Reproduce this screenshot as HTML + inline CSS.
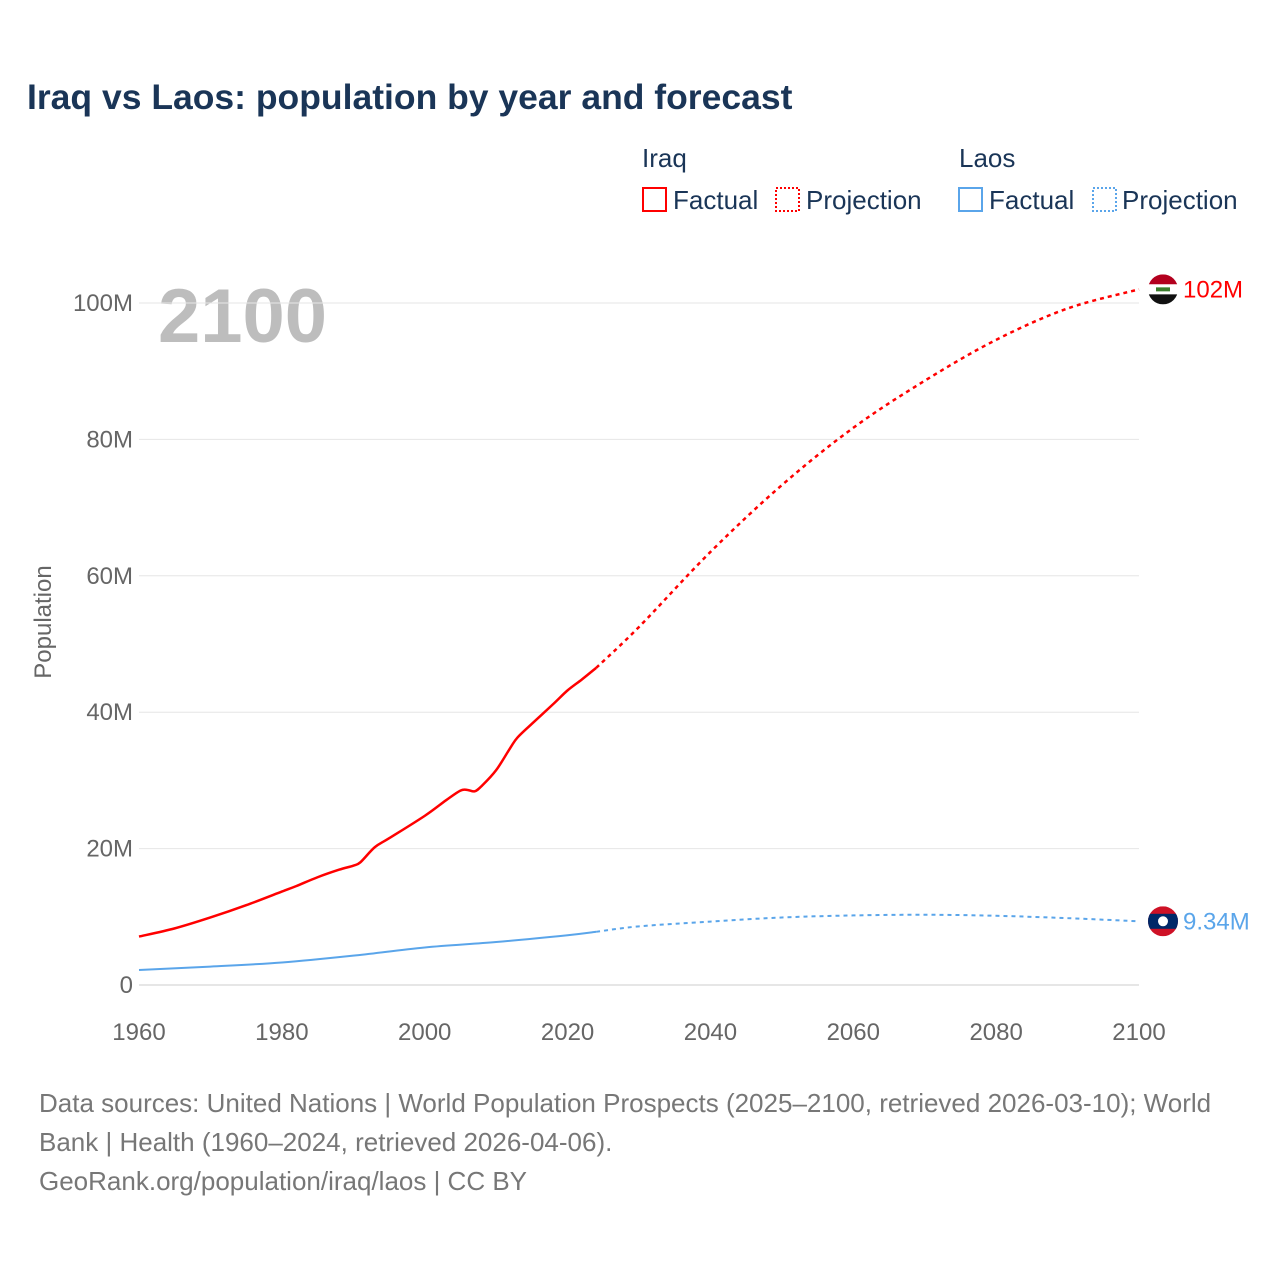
<!DOCTYPE html>
<html><head><meta charset="utf-8">
<style>
body{margin:0;background:#fff;font-family:"Liberation Sans",sans-serif;}
#wrap{position:relative;width:1280px;height:1280px;overflow:hidden;}
</style></head>
<body>
<div id="wrap">
<svg id="chart" width="1280" height="1280">
  <text x="27" y="109" font-size="35.5" font-weight="bold" fill="#1a3557">Iraq vs Laos: population by year and forecast</text>
  <g font-size="26" fill="#1a3557">
    <text x="642" y="167">Iraq</text>
    <text x="959" y="167">Laos</text>
    <g><rect x="643" y="188" width="23" height="23" fill="none" stroke="#ff0000" stroke-width="2"/><text x="673" y="209">Factual</text></g>
    <g><rect x="776" y="188" width="23" height="23" fill="none" stroke="#ff0000" stroke-width="2" stroke-dasharray="2,2"/><text x="806" y="209">Projection</text></g>
    <g><rect x="959" y="188" width="23" height="23" fill="none" stroke="#5aa5ea" stroke-width="2"/><text x="989" y="209">Factual</text></g>
    <g><rect x="1093" y="188" width="23" height="23" fill="none" stroke="#5aa5ea" stroke-width="2" stroke-dasharray="2,2"/><text x="1122" y="209">Projection</text></g>
  </g>
  <text x="158" y="342" font-size="76" font-weight="bold" fill="#bdbdbd">2100</text>
  <text transform="translate(51,622) rotate(-90)" text-anchor="middle" font-size="24" fill="#666">Population</text>
  <g id="grid"></g>
  <g id="series"></g>
  <g id="markers"></g>
  <g font-size="26" fill="#777">
    <text x="39" y="1112">Data sources: United Nations | World Population Prospects (2025–2100, retrieved 2026-03-10); World</text>
    <text x="39" y="1151">Bank | Health (1960–2024, retrieved 2026-04-06).</text>
    <text x="39" y="1190">GeoRank.org/population/iraq/laos | CC BY</text>
  </g>
</svg>
</div>
<script>
const yTicks = [0, 20, 40, 60, 80, 100];
const yTickLabels = ["0", "20M", "40M", "60M", "80M", "100M"];
const xTicks = [1960, 1980, 2000, 2020, 2040, 2060, 2080, 2100];
const iraqYears = [1960,1965,1970,1975,1980,1982,1985,1988,1990,1991,1993,1995,2000,2003,2005,2006,2007,2008,2010,2012,2013,2015,2018,2020,2022,2024];
const iraqValues = [7.1,8.3,9.9,11.7,13.7,14.5,15.8,16.9,17.5,18.0,20.2,21.5,24.8,27.1,28.5,28.6,28.4,29.2,31.5,34.8,36.3,38.3,41.2,43.2,44.8,46.5];
const iraqProjYears = [2024,2030,2040,2050,2060,2070,2080,2090,2100];
const iraqProjValues = [46.5,52.5,63.5,73.3,81.7,88.6,94.6,99.2,102];
const laosYears = [1960,1970,1980,1990,2000,2010,2020,2024];
const laosValues = [2.2,2.7,3.3,4.3,5.5,6.3,7.3,7.8];
const laosProjYears = [2024,2030,2040,2050,2060,2070,2080,2090,2100];
const laosProjValues = [7.8,8.6,9.3,9.9,10.2,10.3,10.15,9.8,9.34];

const NS = "http://www.w3.org/2000/svg";
const xS = y => 139 + (y - 1960) * 1000 / 140;
const yS = v => 985 - v * 6.82;
function mk(tag, attrs, parent){const e=document.createElementNS(NS,tag);for(const k in attrs)e.setAttribute(k,attrs[k]);parent.appendChild(e);return e;}
const grid = document.getElementById('grid');
yTicks.forEach((t,i)=>{
  const l = mk('line',{x1:139,x2:1139,y1:yS(t),y2:yS(t),stroke:i===0?'#ccc':'#e6e6e6','stroke-width':1},grid);
  
  
  const tx = mk('text',{x:133,y:yS(t)+8,'text-anchor':'end','font-size':24,fill:'#666'},grid);
  tx.textContent = yTickLabels[i];
  
  
});
xTicks.forEach(t=>{
  const tx = mk('text',{x:xS(t),y:1040,'text-anchor':'middle','font-size':24,fill:'#666'},grid);
  tx.textContent = t;
  
  
});
function pathD(xs, vs){
  const p = xs.map((x,i)=>[xS(x),yS(vs[i])]);
  let d = 'M'+p[0][0]+','+p[0][1];
  for(let i=0;i<p.length-1;i++){
    const p0=p[i-1]||p[i], p1=p[i], p2=p[i+1], p3=p[i+2]||p2;
    const c1x=p1[0]+(p2[0]-p0[0])/6, c1y=p1[1]+(p2[1]-p0[1])/6;
    const c2x=p2[0]-(p3[0]-p1[0])/6, c2y=p2[1]-(p3[1]-p1[1])/6;
    d+=' C'+c1x+','+c1y+' '+c2x+','+c2y+' '+p2[0]+','+p2[1];
  }
  return d;
}
const series = document.getElementById('series');
const s1 = mk('path',{d:pathD(iraqYears,iraqValues),fill:'none',stroke:'#ff0000','stroke-width':2.5},series);


const s2 = mk('path',{d:pathD(iraqProjYears,iraqProjValues),fill:'none',stroke:'#ff0000','stroke-width':2.5,'stroke-dasharray':'4,4'},series);


const s3 = mk('path',{d:pathD(laosYears,laosValues),fill:'none',stroke:'#5aa5ea','stroke-width':2},series);


const s4 = mk('path',{d:pathD(laosProjYears,laosProjValues),fill:'none',stroke:'#5aa5ea','stroke-width':2,'stroke-dasharray':'4,4'},series);



const markers = document.getElementById('markers');
const iv = iraqProjValues[iraqProjValues.length-1], lv = laosProjValues[laosProjValues.length-1];
const cx = 1163;
const ig = mk('g',{},markers);


const iy = yS(iv);
const cpi = mk('clipPath',{id:'cpi'},ig);
mk('circle',{cx:cx,cy:iy,r:15},cpi);
const igg = mk('g',{'clip-path':'url(#cpi)'},ig);
mk('rect',{x:cx-15,y:iy-15,width:30,height:10,fill:'#b3001e'},igg);
mk('rect',{x:cx-15,y:iy-5,width:30,height:10,fill:'#fff'},igg);
mk('rect',{x:cx-15,y:iy+5,width:30,height:10,fill:'#111'},igg);
mk('rect',{x:cx-7,y:iy-2,width:14,height:4,fill:'#3a7d2c'},igg);
const it = mk('text',{x:1183,y:iy+8,'font-size':24,fill:'#ff0000'},markers);
it.textContent = Math.round(iv)+'M';


const lg = mk('g',{},markers);


const ly = yS(lv);
const cpl = mk('clipPath',{id:'cpl'},lg);
mk('circle',{cx:cx,cy:ly,r:15},cpl);
const lgg = mk('g',{'clip-path':'url(#cpl)'},lg);
mk('rect',{x:cx-15,y:ly-15,width:30,height:30,fill:'#ce1126'},lgg);
mk('rect',{x:cx-15,y:ly-7.5,width:30,height:15,fill:'#002868'},lgg);
mk('circle',{cx:cx,cy:ly,r:5,fill:'#fff'},lgg);
const lt = mk('text',{x:1183,y:ly+8,'font-size':24,fill:'#5aa5ea'},markers);
lt.textContent = lv.toFixed(2)+'M';


</script>
</body></html>
